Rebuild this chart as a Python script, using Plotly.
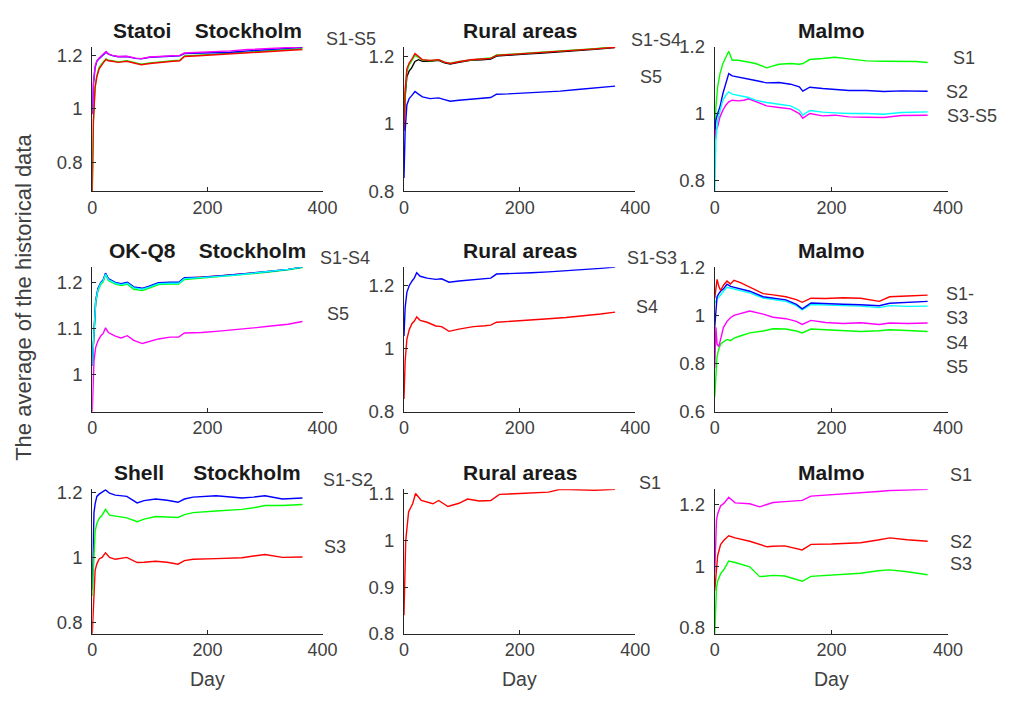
import plotly.graph_objects as go

W, H = 1015, 704

# ---------------- data ----------------
# Panel 1: Statoi Stockholm
p1_days = [0, 2, 5, 8, 12, 16, 20, 24, 28, 35, 45, 60, 75, 85, 100, 120, 140, 152, 160, 185, 210, 240, 270, 300, 330, 365]
p1_green = [0.69, 0.96, 1.085, 1.125, 1.155, 1.168, 1.178, 1.187, 1.182, 1.18, 1.176, 1.18, 1.172, 1.167, 1.172, 1.177, 1.18, 1.182, 1.198, 1.201, 1.204, 1.208, 1.212, 1.217, 1.221, 1.225]
p1_red = [0.69, 0.95, 1.08, 1.12, 1.15, 1.165, 1.175, 1.185, 1.18, 1.178, 1.174, 1.178, 1.17, 1.165, 1.17, 1.175, 1.178, 1.18, 1.196, 1.199, 1.202, 1.205, 1.209, 1.214, 1.218, 1.222]
p1_blue = [0.98, 1.09, 1.155, 1.178, 1.188, 1.196, 1.203, 1.212, 1.205, 1.199, 1.195, 1.196, 1.189, 1.187, 1.193, 1.196, 1.198, 1.199, 1.207, 1.208, 1.209, 1.212, 1.217, 1.222, 1.226, 1.23]
p1_magenta = [0.98, 1.10, 1.16, 1.18, 1.19, 1.198, 1.205, 1.215, 1.206, 1.2, 1.196, 1.197, 1.19, 1.188, 1.194, 1.197, 1.199, 1.2, 1.209, 1.211, 1.213, 1.217, 1.222, 1.226, 1.229, 1.232]

# Panel 2: Rural areas (top)
p2_days = [0, 2, 5, 9, 13, 19, 25, 32, 45, 60, 70, 80, 95, 115, 135, 150, 160, 180, 210, 240, 270, 300, 330, 365]
p2_black = [0.98, 1.08, 1.14, 1.157, 1.165, 1.185, 1.19, 1.185, 1.185, 1.188, 1.181, 1.177, 1.182, 1.188, 1.19, 1.192, 1.201, 1.204, 1.207, 1.21, 1.213, 1.217, 1.221, 1.226]
p2_green = [0.98, 1.09, 1.155, 1.175, 1.186, 1.203, 1.197, 1.189, 1.187, 1.19, 1.183, 1.18, 1.185, 1.19, 1.193, 1.195, 1.204, 1.206, 1.209, 1.212, 1.215, 1.219, 1.223, 1.228]
p2_red = [0.98, 1.10, 1.163, 1.18, 1.19, 1.208, 1.2, 1.19, 1.188, 1.19, 1.183, 1.179, 1.184, 1.19, 1.192, 1.194, 1.203, 1.205, 1.208, 1.211, 1.214, 1.218, 1.222, 1.227]
p2_blue = [0.84, 0.98, 1.056, 1.075, 1.083, 1.096, 1.088, 1.08, 1.075, 1.077, 1.072, 1.067, 1.07, 1.074, 1.076, 1.078, 1.088, 1.089, 1.091, 1.093, 1.097, 1.102, 1.106, 1.112]

# Panel 3: Malmo (top)
p3_days = [0, 2, 5, 9, 14, 19, 24, 30, 40, 50, 58, 70, 89, 110, 130, 145, 151, 163, 185, 206, 230, 260, 290, 320, 345, 365]
p3_green = [0.92, 1.02, 1.08, 1.12, 1.15, 1.17, 1.187, 1.16, 1.16, 1.157, 1.155, 1.15, 1.137, 1.148, 1.15, 1.148, 1.15, 1.162, 1.165, 1.169, 1.164, 1.158, 1.157, 1.156, 1.156, 1.153]
p3_blue = [0.94, 0.98, 1.0, 1.02, 1.06, 1.09, 1.12, 1.113, 1.11, 1.106, 1.104, 1.099, 1.092, 1.093, 1.088, 1.08, 1.067, 1.079, 1.075, 1.072, 1.069, 1.069, 1.066, 1.068, 1.067, 1.067]
p3_magenta = [0.92, 0.95, 0.96, 0.99, 1.01, 1.025, 1.035, 1.04, 1.038, 1.04, 1.044, 1.035, 1.023, 1.018, 1.014, 1.0, 0.986, 1.0, 0.993, 0.995, 0.99, 0.989, 0.988, 0.994, 0.995, 0.995]
p3_cyan = [0.766, 0.92, 0.98, 1.01, 1.04, 1.055, 1.065, 1.058, 1.055, 1.051, 1.048, 1.04, 1.033, 1.028, 1.023, 1.01, 0.995, 1.009, 1.004, 1.002, 1.0, 1.0, 0.998, 1.003, 1.004, 1.005]

# Panel 4: OK-Q8 Stockholm
p4_days = [0, 3, 6, 10, 15, 19, 23, 28, 40, 50, 61, 72, 87, 100, 115, 135, 150, 160, 190, 220, 250, 280, 310, 340, 365]
p4_red = [1.02, 1.10, 1.16, 1.186, 1.2, 1.205, 1.22, 1.208, 1.2, 1.197, 1.2, 1.19, 1.187, 1.192, 1.199, 1.2, 1.2, 1.21, 1.212, 1.215, 1.218, 1.221, 1.225, 1.229, 1.234]
p4_green = [1.02, 1.10, 1.158, 1.183, 1.197, 1.202, 1.218, 1.205, 1.197, 1.194, 1.197, 1.186, 1.183, 1.189, 1.196, 1.197, 1.197, 1.207, 1.21, 1.213, 1.216, 1.22, 1.224, 1.228, 1.233]
p4_blue = [1.02, 1.11, 1.162, 1.188, 1.201, 1.206, 1.221, 1.209, 1.201, 1.198, 1.201, 1.191, 1.188, 1.193, 1.2, 1.201, 1.201, 1.211, 1.212, 1.215, 1.218, 1.221, 1.225, 1.229, 1.234]
p4_cyan = [1.02, 1.105, 1.16, 1.185, 1.199, 1.204, 1.219, 1.207, 1.199, 1.196, 1.199, 1.189, 1.186, 1.191, 1.198, 1.199, 1.199, 1.209, 1.211, 1.214, 1.217, 1.221, 1.225, 1.229, 1.234]
p4_magenta = [0.92, 1.03, 1.06, 1.074, 1.085, 1.09, 1.102, 1.092, 1.084, 1.08, 1.085, 1.075, 1.068, 1.072, 1.078, 1.082, 1.082, 1.091, 1.092, 1.095, 1.098, 1.102, 1.106, 1.11, 1.116]

# Panel 5: Rural areas (middle)
p5_days = [0, 2, 5, 9, 14, 18, 22, 28, 40, 55, 65, 78, 95, 120, 140, 150, 160, 190, 220, 250, 280, 310, 340, 365]
p5_blue = [1.04, 1.13, 1.179, 1.2, 1.215, 1.225, 1.241, 1.23, 1.224, 1.22, 1.222, 1.211, 1.215, 1.22, 1.222, 1.224, 1.237, 1.238, 1.241, 1.244, 1.247, 1.251, 1.255, 1.259]
p5_red = [0.84, 0.96, 1.03, 1.06, 1.08, 1.088, 1.101, 1.09, 1.084, 1.072, 1.07, 1.055, 1.062, 1.07, 1.073, 1.075, 1.084, 1.087, 1.091, 1.095, 1.099, 1.104, 1.11, 1.116]

# Panel 6: Malmo (middle)
p6_days = [0, 2, 4, 7, 10, 15, 21, 27, 33, 45, 60, 83, 100, 122, 140, 150, 165, 190, 220, 250, 282, 300, 330, 365]
p6_green = [0.66, 0.78, 0.83, 0.86, 0.88, 0.89, 0.9, 0.895, 0.905, 0.915, 0.927, 0.935, 0.944, 0.943, 0.935, 0.927, 0.943, 0.94, 0.935, 0.933, 0.936, 0.94, 0.937, 0.933]
p6_magenta = [0.78, 0.95, 0.88, 0.87, 0.9, 0.95, 0.975, 0.99, 1.0, 1.008, 1.018, 1.005, 0.992, 0.986, 0.975, 0.962, 0.979, 0.97, 0.966, 0.969, 0.962, 0.968, 0.966, 0.968]
p6_cyan = [1.05, 1.06, 1.07, 1.075, 1.085, 1.1, 1.116, 1.112, 1.108, 1.102, 1.093, 1.072, 1.065, 1.058, 1.04, 1.022, 1.045, 1.042, 1.04, 1.038, 1.032, 1.04, 1.037, 1.038]
p6_blue = [0.95, 1.04, 1.077, 1.09, 1.1, 1.11, 1.129, 1.12, 1.116, 1.11, 1.1, 1.077, 1.072, 1.064, 1.045, 1.027, 1.051, 1.048, 1.046, 1.044, 1.04, 1.05, 1.053, 1.058]
p6_red = [1.07, 1.12, 1.149, 1.12, 1.103, 1.125, 1.142, 1.13, 1.145, 1.135, 1.117, 1.09, 1.085, 1.077, 1.065, 1.054, 1.071, 1.07, 1.073, 1.071, 1.058, 1.077, 1.08, 1.084]

# Panel 7: Shell Stockholm
p7_days = [0, 3, 5, 8, 12, 17, 23, 30, 40, 60, 78, 90, 110, 130, 149, 160, 175, 215, 240, 260, 280, 300, 330, 365]
p7_blue = [0.9, 1.138, 1.165, 1.188, 1.195, 1.2, 1.208, 1.198, 1.192, 1.188, 1.168, 1.175, 1.18, 1.176, 1.17, 1.18, 1.186, 1.19, 1.187, 1.183, 1.186, 1.19, 1.18, 1.183]
p7_green = [0.88, 1.03, 1.08, 1.105, 1.12, 1.13, 1.148, 1.13, 1.128, 1.122, 1.11, 1.118, 1.126, 1.124, 1.123, 1.132, 1.138, 1.143, 1.146, 1.148, 1.153, 1.16, 1.16, 1.163]
p7_red = [0.764, 0.92, 0.96, 0.98, 0.995, 1.0, 1.014, 1.0, 0.994, 1.0, 0.984, 0.985, 0.988, 0.985, 0.979, 0.99, 0.994, 0.996, 0.998, 0.999, 1.004, 1.009, 1.0, 1.001]

# Panel 8: Rural areas (bottom)
p8_days = [0, 3, 8, 15, 20, 30, 50, 60, 76, 95, 110, 130, 150, 165, 200, 230, 250, 270, 300, 330, 365]
p8_red = [0.84, 1.0, 1.062, 1.079, 1.101, 1.086, 1.079, 1.086, 1.073, 1.08, 1.089, 1.085, 1.086, 1.099, 1.101, 1.103, 1.104, 1.11, 1.109, 1.108, 1.11]

# Panel 9: Malmo (bottom)
p9_days = [0, 3, 5, 10, 16, 24, 35, 60, 77, 90, 100, 120, 150, 165, 200, 250, 280, 300, 330, 365]
p9_magenta = [0.98, 1.149, 1.17, 1.196, 1.205, 1.224, 1.206, 1.203, 1.193, 1.2, 1.207, 1.21, 1.214, 1.228, 1.232, 1.238, 1.243, 1.246, 1.247, 1.25]
p9_red = [0.92, 1.0, 1.034, 1.07, 1.085, 1.099, 1.092, 1.081, 1.07, 1.063, 1.065, 1.066, 1.053, 1.071, 1.072, 1.076, 1.085, 1.092, 1.086, 1.081]
p9_green = [0.78, 0.93, 0.951, 0.975, 0.99, 1.017, 1.012, 0.998, 0.966, 0.968, 0.97, 0.968, 0.951, 0.967, 0.972, 0.977, 0.985, 0.988, 0.982, 0.972]

titles = ["Statoi\u00a0\u00a0\u00a0\u00a0Stockholm", "Rural areas", "Malmo",
          "OK-Q8\u00a0\u00a0\u00a0\u00a0Stockholm", "Rural areas", "Malmo",
          "Shell\u00a0\u00a0\u00a0\u00a0\u00a0Stockholm", "Rural areas", "Malmo"]

y_ticks = [[0.8, 1, 1.2], [0.8, 1, 1.2], [0.8, 1, 1.2],
           [1, 1.1, 1.2], [0.8, 1, 1.2], [0.6, 0.8, 1, 1.2],
           [0.8, 1, 1.2], [0.8, 0.9, 1, 1.1], [0.8, 1, 1.2]]
y_ranges = [[0.69, 1.232], [0.8, 1.228], [0.766, 1.2],
            [0.92, 1.234], [0.8, 1.259], [0.6, 1.2],
            [0.764, 1.21], [0.8, 1.11], [0.78, 1.25]]
x_ticks = [0, 200, 400]

series_labels = [["S1-S5"], ["S1-S4", "S5"], ["S1", "S2", "S3-S5"],
                 ["S1-S4", "S5"], ["S1-S3", "S4"], ["S1-", "S3", "S4", "S5"],
                 ["S1-S2", "S3"], ["S1"], ["S1", "S2", "S3"]]

panels = [
    (p1_days, [(p1_green, "#00ff00"), (p1_red, "#ff0000"), (p1_blue, "#0000ff"), (p1_magenta, "#ff00ff")]),
    (p2_days, [(p2_black, "#000000"), (p2_green, "#00ff00"), (p2_red, "#ff0000"), (p2_blue, "#0000ff")]),
    (p3_days, [(p3_green, "#00ff00"), (p3_blue, "#0000ff"), (p3_magenta, "#ff00ff"), (p3_cyan, "#00ffff")]),
    (p4_days, [(p4_red, "#ff0000"), (p4_green, "#00ff00"), (p4_blue, "#0000ff"), (p4_cyan, "#00ffff"), (p4_magenta, "#ff00ff")]),
    (p5_days, [(p5_blue, "#0000ff"), (p5_red, "#ff0000")]),
    (p6_days, [(p6_green, "#00ff00"), (p6_magenta, "#ff00ff"), (p6_cyan, "#00ffff"), (p6_blue, "#0000ff"), (p6_red, "#ff0000")]),
    (p7_days, [(p7_blue, "#0000ff"), (p7_green, "#00ff00"), (p7_red, "#ff0000")]),
    (p8_days, [(p8_red, "#ff0000")]),
    (p9_days, [(p9_magenta, "#ff00ff"), (p9_red, "#ff0000"), (p9_green, "#00ff00")]),
]

# ---------------- layout geometry (pixels) ----------------
col_px = [(89, 324), (407, 643), (724, 962)]
row_px = [(37, 186), (264, 413), (493, 642)]
label_pos = [[(325, 29)], [(637, 30), (646, 68)], [(965, 48), (958, 83), (959, 108)],
             [(319, 255), (326, 312)], [(632, 255), (642, 305)],
             [(958, 292), (958, 316), (958, 342), (958, 367)],
             [(322, 483), (323, 552)], [(645, 487)], [(962, 478), (962, 547), (962, 570)]]

AX = "#262626"
TXT = "#404040"
FONT = "Liberation Sans, Arial, Helvetica, sans-serif"

fig = go.Figure()
annotations = []
layout = {}
for i, (days, sers) in enumerate(panels):
    r, c = divmod(i, 3)
    n = i + 1
    xa = "x" if n == 1 else f"x{n}"
    ya = "y" if n == 1 else f"y{n}"
    for vals, color in sers:
        fig.add_trace(go.Scatter(x=days, y=vals, mode="lines", xaxis=xa, yaxis=ya,
                                 line=dict(color=color, width=1.4), showlegend=False,
                                 hoverinfo="skip"))
    x0, x1 = col_px[c]
    yt, yb = row_px[r]
    layout[f"xaxis{n}"] = dict(domain=[x0 / W, x1 / W], anchor=ya, range=[0, 400],
                               tickvals=x_ticks, ticktext=[str(v) for v in x_ticks],
                               ticks="inside", ticklen=4, tickcolor=AX, showline=True,
                               linecolor=AX, linewidth=1, showgrid=False, zeroline=False,
                               tickfont=dict(size=18, color=TXT, family=FONT),
                               fixedrange=True)
    yv = y_ticks[i]
    layout[f"yaxis{n}"] = dict(domain=[1 - yb / H, 1 - yt / H], anchor=xa, range=y_ranges[i],
                               tickvals=yv, ticktext=[("%g" % v) for v in yv],
                               ticks="inside", ticklen=4, tickcolor=AX, showline=True,
                               linecolor=AX, linewidth=1, showgrid=False, zeroline=False,
                               ticklabelstandoff=5,
                               tickfont=dict(size=18.5, color=TXT, family=FONT),
                               fixedrange=True)
    # panel title
    annotations.append(dict(text=f"<b>{titles[i]}</b>", xref="paper", yref="paper",
                            x=(x0 + x1) / 2 / W, y=1 - (yt - 17) / H, xanchor="center",
                            yanchor="middle", showarrow=False,
                            font=dict(size=21, color="#1a1a1a", family=FONT)))
    # series labels
    for txt, (px, py) in zip(series_labels[i], label_pos[i]):
        annotations.append(dict(text=txt, xref="paper", yref="paper", x=px / W, y=1 - py / H,
                                xanchor="left", yanchor="middle", showarrow=False,
                                font=dict(size=18, color=TXT, family=FONT)))
    if r == 2:
        annotations.append(dict(text="Day", xref="paper", yref="paper",
                                x=(x0 + x1) / 2 / W, y=1 - 689 / H, xanchor="center",
                                yanchor="middle", showarrow=False,
                                font=dict(size=19.5, color=TXT, family=FONT)))

annotations.append(dict(text="The average of the historical data", xref="paper", yref="paper",
                        x=19 / W, y=1 - 295 / H, xanchor="center", yanchor="middle",
                        textangle=-90, showarrow=False,
                        font=dict(size=22, color=TXT, family=FONT)))

fig.update_layout(**layout)
fig.update_layout(width=W, height=H, margin=dict(l=0, r=0, t=0, b=0),
                  paper_bgcolor="white", plot_bgcolor="white",
                  annotations=annotations, showlegend=False)

fig.write_html("out.html", config={"displayModeBar": False})
